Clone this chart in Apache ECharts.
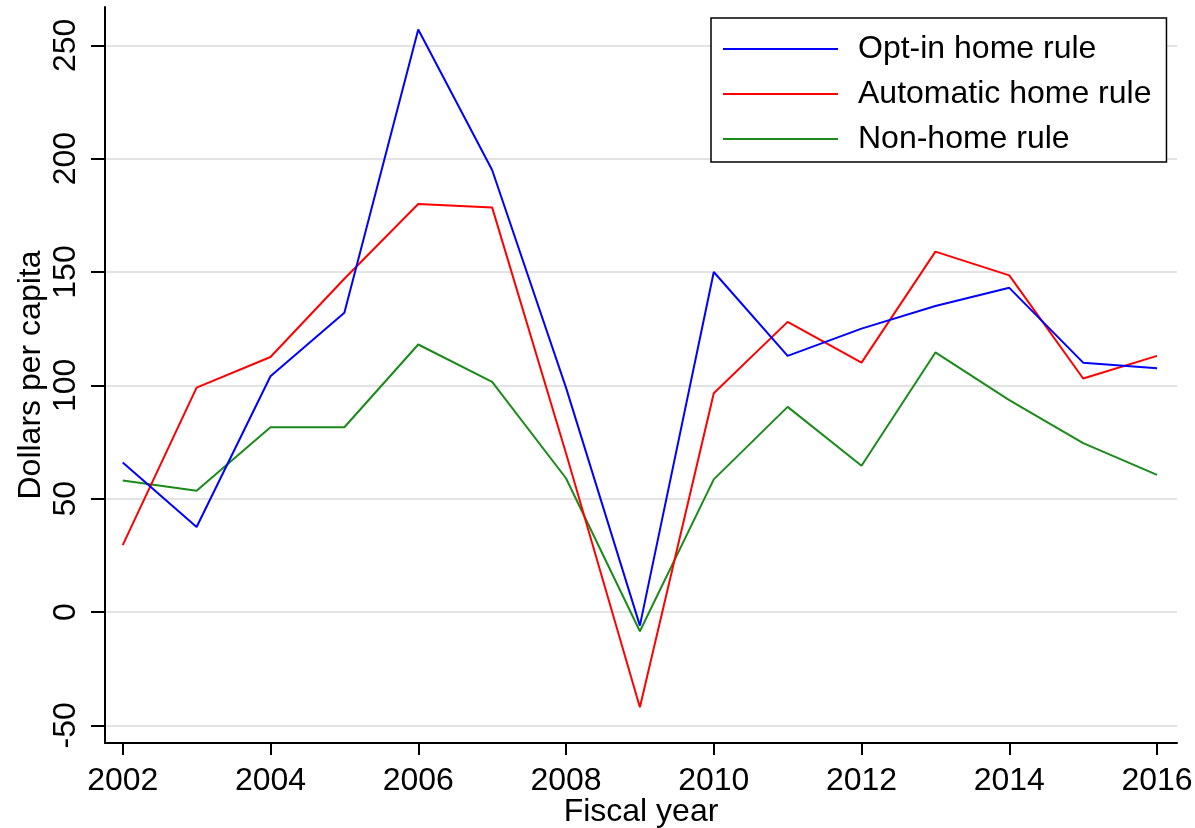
<!DOCTYPE html>
<html>
<head>
<meta charset="utf-8">
<script src="https://cdn.jsdelivr.net/npm/echarts@6/dist/echarts.min.js"></script>
<style>
html,body{margin:0;padding:0;background:#fff;}
#chart{width:1195px;height:828px;}
</style>
</head>
<body>
<div id="chart"></div>
<script>
const years = [2002,2003,2004,2005,2006,2007,2008,2009,2010,2011,2012,2013,2014,2015,2016];
const optIn = [66,37.5,104,132,257,195,99,-6,150,113,125,135,143,110,107.5];
const automatic = [29.5,99,112.5,147,180,178.5,70,-42,96.5,128,110,159,148.5,103,113];
const nonHome = [58,53.5,81.5,81.5,118,101.5,59,-8.5,58.5,90.5,64.5,114.5,93.5,74.5,60.5];
const xTickMin = 2002, xTickMax = 2016, xTickStep = 2;
const yTickMin = -50, yTickMax = 250, yTickStep = 50;
const seriesNames = ['Opt-in home rule','Automatic home rule','Non-home rule'];
const seriesColors = ['#0000ff','#ff0000','#1a8a1a'];

// plot-region range (Stata-like padded axis range)
const xRange = [2001.76, 2016.27];
const yRange = [-57.8, 266.9];

const W = 1195, H = 828;
const G = {left:105, right:18, top:7, bottom:85};
const plotW = W - G.left - G.right, plotH = H - G.top - G.bottom;
const pxX = plotW / (xRange[1]-xRange[0]);
const pxY = plotH / (yRange[1]-yRange[0]);

const font = 'Liberation Sans, Arial, sans-serif';
const pairs = arr => years.map((y,i)=>[y,arr[i]]);
const allData = [optIn, automatic, nonHome];
const lbl = {fontFamily:font,fontSize:32,color:'#000'};

const chart = echarts.init(document.getElementById('chart'), null, {renderer:'canvas'});
chart.setOption({
  animation:false,
  backgroundColor:'#ffffff',
  textStyle:{fontFamily:font},
  grid:[
    {left:G.left,right:G.right,top:G.top,bottom:G.bottom,containLabel:false,outerBoundsMode:'none'},
    {left:G.left,right:G.right,
     top:G.top+(yRange[1]-yTickMax)*pxY,
     bottom:G.bottom+(yTickMin-yRange[0])*pxY,
     containLabel:false,outerBoundsMode:'none'},
    {left:G.left+(xTickMin-xRange[0])*pxX,
     right:G.right+(xRange[1]-xTickMax)*pxX,
     top:G.top,bottom:G.bottom,containLabel:false,outerBoundsMode:'none'}
  ],
  legend:{
    left:711, top:18, orient:'vertical',
    padding:[15,15,7,12],
    icon:'rect',
    itemWidth:115, itemHeight:2, itemGap:13,
    borderColor:'#000', borderWidth:1.5, borderRadius:0,
    backgroundColor:'#fff',
    textStyle:{fontFamily:font,fontSize:32,color:'#000',padding:[0,0,0,15],lineHeight:30},
    data:seriesNames
  },
  xAxis:[
    {gridIndex:0,type:'value',min:xRange[0],max:xRange[1],
     name:'Fiscal year',nameLocation:'middle',nameGap:53,nameTextStyle:lbl,
     axisLine:{show:true,onZero:false,lineStyle:{color:'#000',width:2}},
     axisTick:{show:false},axisLabel:{show:false},splitLine:{show:false}},
    {gridIndex:1,type:'value',min:xRange[0],max:xRange[1],show:false},
    {gridIndex:2,type:'value',min:xTickMin,max:xTickMax,interval:xTickStep,
     axisLine:{show:false,onZero:false},
     axisTick:{show:true,length:12,lineStyle:{color:'#000',width:2}},
     axisLabel:Object.assign({margin:22,formatter:v=>String(v)},lbl),
     splitLine:{show:false}}
  ],
  yAxis:[
    {gridIndex:0,type:'value',min:yRange[0],max:yRange[1],
     name:'Dollars per capita',nameLocation:'middle',nameGap:58,nameTextStyle:lbl,
     axisLine:{show:true,onZero:false,lineStyle:{color:'#000',width:2}},
     axisTick:{show:false},axisLabel:{show:false},splitLine:{show:false}},
    {gridIndex:1,type:'value',min:yTickMin,max:yTickMax,interval:yTickStep,
     axisLine:{show:false,onZero:false},
     axisTick:{show:true,length:14,lineStyle:{color:'#000',width:2}},
     axisLabel:Object.assign({margin:23,rotate:90,formatter:v=>String(v)},lbl),
     splitLine:{show:true,lineStyle:{color:'#e3e3e3',width:2}}},
    {gridIndex:2,type:'value',min:0,max:1,show:false}
  ],
  series: seriesNames.map((n,i)=>({
    name:n, type:'line', xAxisIndex:0, yAxisIndex:0, data:pairs(allData[i]),
    symbol:'none', showSymbol:false,
    lineStyle:{color:seriesColors[i],width:2},
    itemStyle:{color:seriesColors[i]},
    z:3-i
  }))
});
</script>
</body>
</html>
